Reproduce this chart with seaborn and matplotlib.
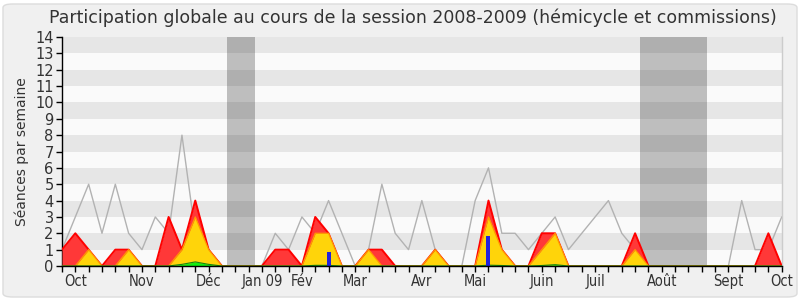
import numpy as np
import pandas as pd
import matplotlib
matplotlib.use("Agg")
import matplotlib.pyplot as plt
import seaborn as sns
from matplotlib.patches import FancyBboxPatch

# ---- data (one value per week, 55 weeks: 0..54) ----
weeks = list(range(55))
presence_total = [1, 2, 1, 0, 1, 1, 0, 0, 3, 1, 4, 1, 0, 0, 0, 0, 1, 1, 0, 3,
                  2, 0, 0, 1, 1, 0, 0, 0, 1, 0, 0, 0, 4, 1, 0, 0, 2, 2, 0, 0,
                  0, 0, 0, 2, 0, 0, 0, 0, 0, 0, 0, 0, 0, 2, 0]
presence_hemicycle = [0, 0, 1, 0, 0, 1, 0, 0, 0, 1, 3, 1, 0, 0, 0, 0, 0, 0, 0, 2,
                      2, 0, 0, 1, 0, 0, 0, 0, 1, 0, 0, 0, 3, 1, 0, 0, 1, 2, 0, 0,
                      0, 0, 0, 1, 0, 0, 0, 0, 0, 0, 0, 0, 0, 0, 0]
presence_other = [0, 0, 0, 0, 0, 0, 0, 0, 0, 0.1, 0.25, 0.1, 0, 0, 0, 0, 0, 0, 0, 0.04,
                  0.04, 0, 0, 0, 0, 0, 0, 0, 0, 0, 0, 0, 0.05, 0.03, 0, 0, 0.03, 0.08, 0, 0,
                  0, 0, 0, 0, 0, 0, 0, 0, 0, 0, 0, 0, 0, 0, 0]
median_deputes = [1, 3, 5, 2, 5, 2, 1, 3, 2, 8, 2, 1, 0, 0, 0, 0, 2, 1, 3, 2,
                  4, 2, 0, 1, 5, 2, 1, 4, 1, 0, 0, 4, 6, 2, 2, 1, 2, 3, 1, 2,
                  3, 4, 2, 1, 0, 0, 0, 0, 0, 0, 0, 4, 1, 1, 3]
interventions_weeks = [20, 32]
interventions_values = [0.85, 1.85]
vacation_spans = [(12.4, 14.5), (43.4, 48.4)]
month_weeks = [1, 6, 11, 15, 18, 22, 27, 31, 36, 40, 45, 50, 54]
month_labels = ["Oct", "Nov", "Déc", "Jan 09", "Fév", "Mar", "Avr", "Mai",
                "Juin", "Juil", "Août", "Sept", "Oct"]
title = "Participation globale au cours de la session 2008-2009 (hémicycle et commissions)"
ylabel = "Séances par semaine"

df = pd.DataFrame({"week": weeks, "total": presence_total,
                   "hemi": presence_hemicycle, "other": presence_other,
                   "median": median_deputes})

sns.set_theme(style="white")
plt.rcParams["font.family"] = ["DejaVu Sans"]

fig = plt.figure(figsize=(8, 3), dpi=100)
fig.patch.set_facecolor("white")
bg = FancyBboxPatch((3 / 800, 3 / 300), 794 / 800, 293 / 300,
                    boxstyle="round,pad=0,rounding_size=0.012",
                    transform=fig.transFigure, facecolor="#f0f0f0",
                    edgecolor="#dcdcdc", lw=1, zorder=-10)
fig.patches.append(bg)

ax = fig.add_axes([62 / 800, 1 - 266 / 300, (781.7 - 62) / 800, (266 - 37) / 300])
ax.set_zorder(5)
ax.set_xlim(0, 54)
ax.set_ylim(0, 14)

# background bands
for i in range(14):
    ax.axhspan(i, i + 1, color="#e6e6e6" if i % 2 == 1 else "#fafafa", lw=0, zorder=0)

for a, b in vacation_spans:
    ax.axvspan(a, b, color="black", alpha=0.24, lw=0, zorder=1)

sns.lineplot(data=df, x="week", y="median", color="#b2b2b2", lw=1, ax=ax, zorder=2)

ax.fill_between(df["week"], 0, df["total"], color="#ff3838", lw=0, zorder=3)
sns.lineplot(data=df, x="week", y="total", color="#ff0000", lw=1.4, ax=ax, zorder=3.1)
ax.fill_between(df["week"], 0, df["hemi"], color="#ffd40a", lw=0, zorder=4)
sns.lineplot(data=df, x="week", y="hemi", color="#ff9a00", lw=0.9, ax=ax, zorder=4.1)
ax.fill_between(df["week"], 0, df["other"], color="#11ee11", lw=0, zorder=5)
sns.lineplot(data=df, x="week", y="other", color="#118811", lw=0.8, ax=ax, zorder=5.1)

ax.bar(interventions_weeks, interventions_values, width=0.3, color="#2222dd",
       lw=0, zorder=6)

ax.set_xlabel("")
ax.set_ylabel(ylabel, fontsize=10, color="#333333", labelpad=4)
ax.set_yticks(range(15))
ax.set_yticklabels([str(v) for v in range(15)])
labels = [""] * len(weeks)
for w, lab in zip(month_weeks, month_labels):
    labels[w] = lab
ax.set_xticks(weeks)
ax.set_xticklabels(labels)
for t in ax.get_xticklabels():
    t.set_fontstretch("condensed")
ax.tick_params(axis="x", direction="out", length=4, width=1, color="black",
               pad=1.5, labelsize=10.5, labelcolor="#333333", bottom=True)
ax.tick_params(axis="y", direction="out", length=4, width=1, color="black",
               pad=2, labelsize=10.5, labelcolor="#333333", left=True)

ax.spines["top"].set_visible(False)
ax.spines["left"].set_color("black")
ax.spines["bottom"].set_color("black")
ax.spines["right"].set_color("#cccccc")
for s in ["left", "bottom", "right"]:
    ax.spines[s].set_linewidth(1)
ax.spines["bottom"].set_zorder(10)

fig.text(413 / 800, 1 - 18 / 300, title, ha="center", va="center",
         fontsize=12.5, color="#333333")

fig.savefig("out.png", dpi=100, facecolor=fig.get_facecolor())
